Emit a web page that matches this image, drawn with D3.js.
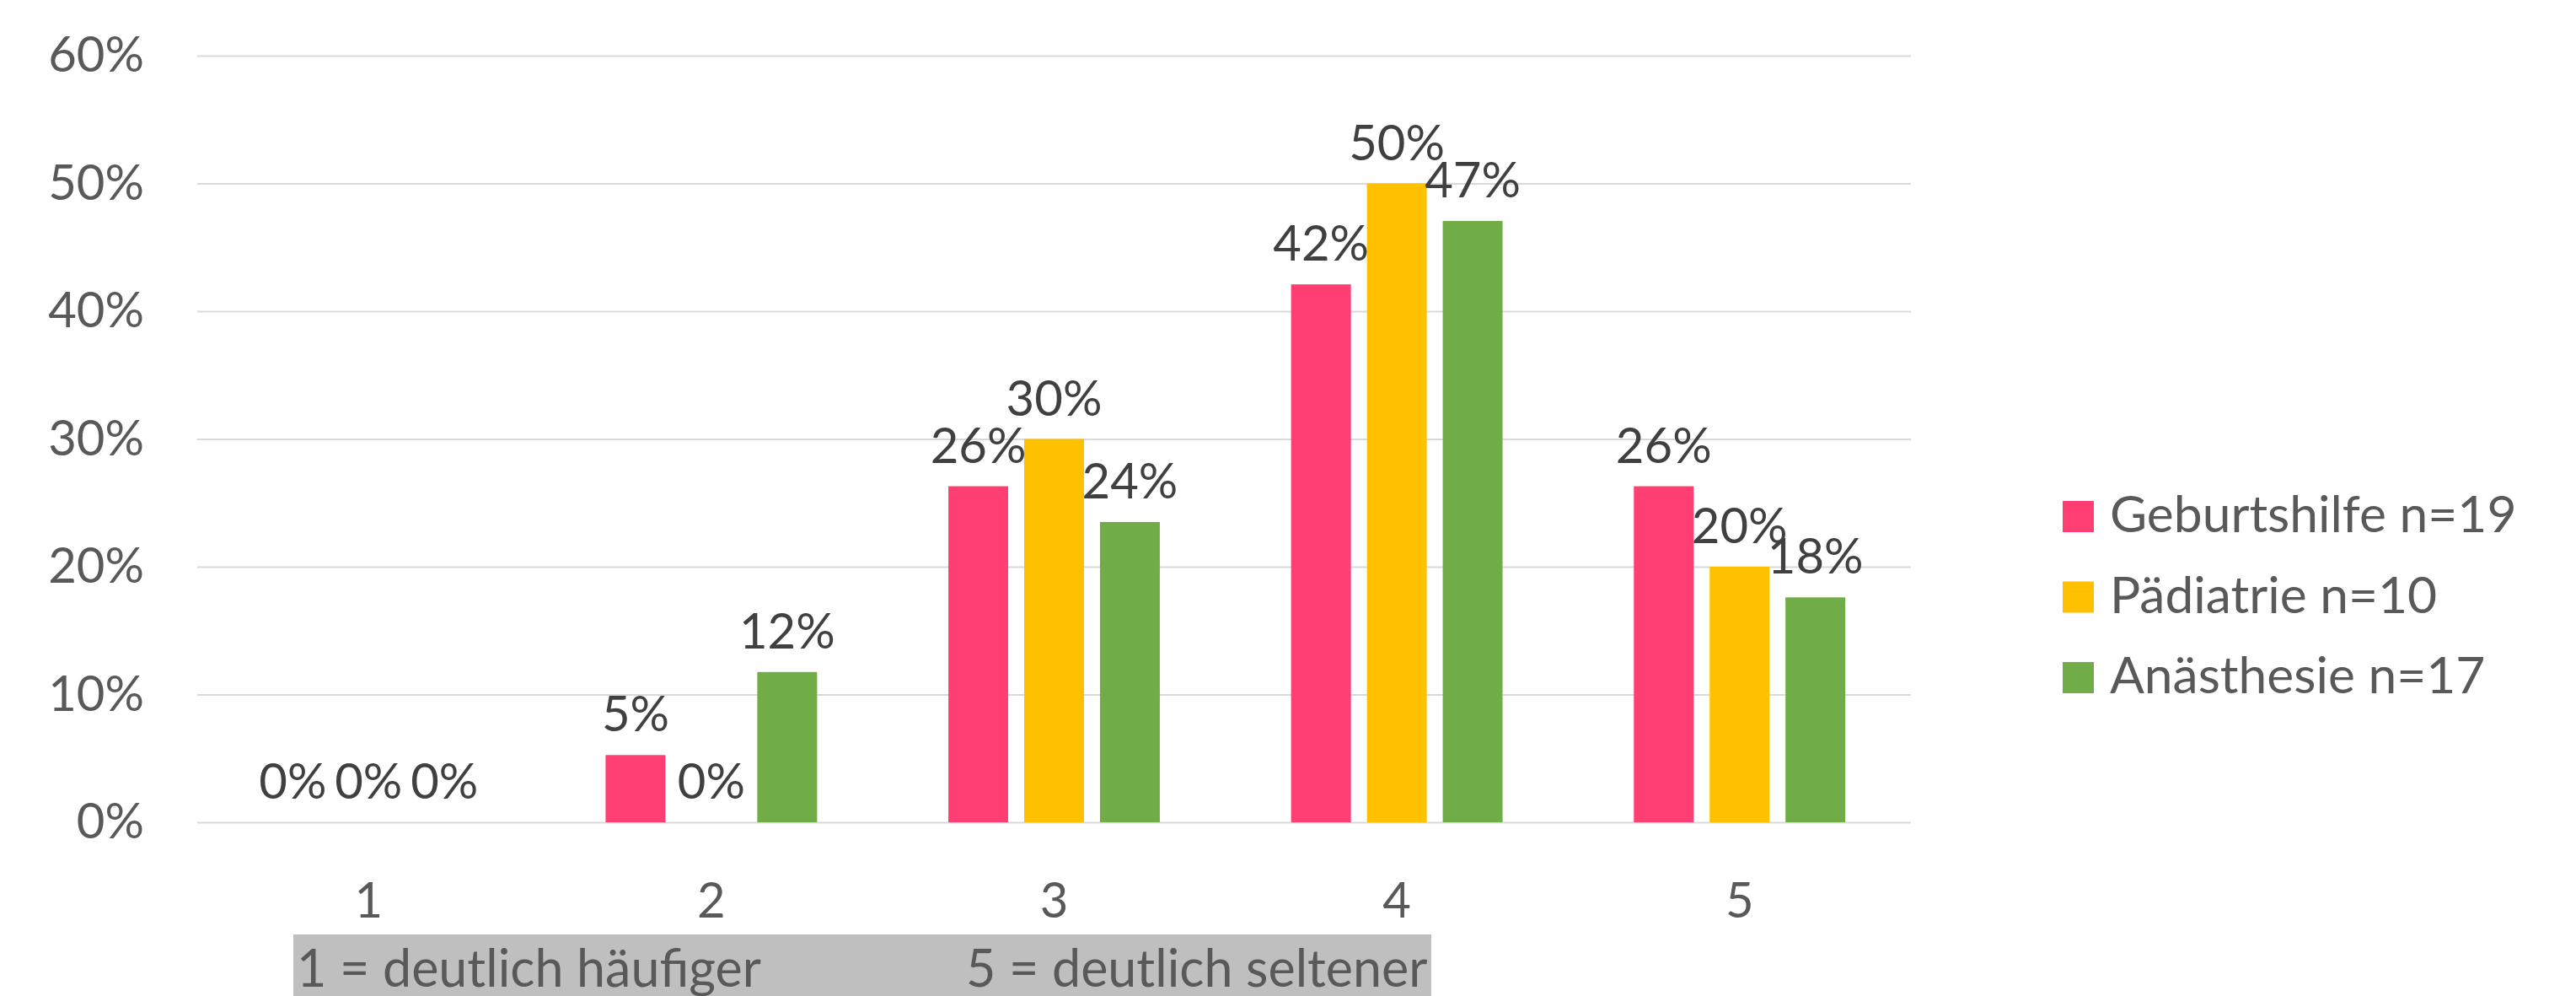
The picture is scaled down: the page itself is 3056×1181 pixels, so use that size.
<!DOCTYPE html>
<html>
<head>
<meta charset="utf-8">
<script src="https://cdn.jsdelivr.net/npm/d3@7"></script>
<style>
  body { margin: 0; background: #ffffff; }
  #graf { width: 3056px; height: 1181px; overflow: hidden; }
  text { font-family: Lato, 'Open Sans', sans-serif; }
</style>
</head>
<body>
<div id="graf"></div>
<script>
// I. Datos
categorias = ['1', '2', '3', '4', '5']
series = ['Geburtshilfe n=19', 'Pädiatrie n=10', 'Anästhesie n=17']
geburtshilfe = [0, 0.0526, 0.263, 0.421, 0.263]
paediatrie   = [0, 0, 0.30, 0.50, 0.20]
anaesthesie  = [0, 0.1176, 0.235, 0.4706, 0.176]
ticksY = [0, 0.1, 0.2, 0.3, 0.4, 0.5, 0.6]
colores = ['#FF3F73', '#FFC000', '#70AD47']
notaIzq = '1 = deutlich häufiger'
notaDer = '5 = deutlich seltener'

// tabla larga para dibujar las barras
valores = [geburtshilfe, paediatrie, anaesthesie]
datos = []
categorias.forEach((c, i) => {
  series.forEach((s, j) => {
    datos.push({ cat: c, serie: s, valor: valores[j][i] })
  })
})

// II. Configuración
ancho_total = 3056
alto_total = 1181
margins = { top: 66, left: 234, right: 789, bottom: 206 }
ancho = ancho_total - margins.left - margins.right
alto  = alto_total - margins.top - margins.bottom

graf = d3.select('#graf')
svg = graf.append('svg')
          .attr('width', ancho_total)
          .attr('height', alto_total)

svg.append('rect')
   .attr('width', ancho_total)
   .attr('height', alto_total)
   .attr('fill', '#ffffff')

g = svg.append('g')
       .attr('transform', `translate(${ margins.left }, ${ margins.top })`)

// escaladores
y = d3.scaleLinear()
      .domain([0, 0.6])
      .range([alto, 0])

x0 = d3.scaleBand()
       .domain(categorias)
       .range([0, ancho])
       .padding(0)

anchoGrupo = x0.bandwidth() * 0.617

x1 = d3.scaleBand()
       .domain(series)
       .range([0, anchoGrupo])
       .paddingInner(0.211)

color = d3.scaleOrdinal()
          .domain(series)
          .range(colores)

fmt = d3.format('.0%')

// eje Y con líneas de rejilla
yAxisGroup = g.append('g')
yAxisGroup.call(d3.axisLeft(y)
                  .tickValues(ticksY)
                  .tickSize(-ancho)
                  .tickPadding(63)
                  .tickFormat(fmt))
yAxisGroup.select('.domain').remove()
yAxisGroup.selectAll('line')
          .attr('stroke', '#D9D9D9')
          .attr('stroke-width', 2)
yAxisGroup.selectAll('text')
          .attr('fill', '#595959')
          .attr('font-size', '58px')
          .attr('font-family', 'Lato, sans-serif')

// eje X
xAxisGroup = g.append('g')
              .attr('transform', `translate(0, ${ alto })`)
xAxisGroup.call(d3.axisBottom(x0).tickSize(0))
xAxisGroup.select('.domain').remove()
xAxisGroup.selectAll('text')
          .attr('y', 113)
          .attr('dy', null)
          .attr('fill', '#595959')
          .attr('font-size', '58px')
          .attr('font-family', 'Lato, sans-serif')

// III. barras
grupos = g.selectAll('.grupo')
          .data(categorias)
          .enter()
          .append('g')
          .attr('class', 'grupo')
          .attr('transform', d => `translate(${ x0(d) + (x0.bandwidth() - anchoGrupo) / 2 }, 0)`)

grupos.selectAll('rect')
      .data(c => datos.filter(d => d.cat == c))
      .enter()
      .append('rect')
        .attr('x', d => x1(d.serie))
        .attr('y', d => y(d.valor))
        .attr('width', x1.bandwidth())
        .attr('height', d => alto - y(d.valor))
        .attr('fill', d => color(d.serie))

// etiquetas de datos
grupos.selectAll('.etiqueta')
      .data(c => datos.filter(d => d.cat == c))
      .enter()
      .append('text')
        .attr('class', 'etiqueta')
        .attr('x', d => x1(d.serie) + x1.bandwidth() / 2)
        .attr('y', d => y(d.valor) - 28)
        .attr('text-anchor', 'middle')
        .attr('font-size', '58px')
        .attr('fill', '#404040')
        .text(d => fmt(d.valor))

// IV. leyenda
leyenda = svg.append('g')
             .attr('transform', 'translate(2447, 631)')

items = leyenda.selectAll('.item')
               .data(series)
               .enter()
               .append('g')
               .attr('class', 'item')
               .attr('transform', (d, i) => `translate(0, ${ i * 95.5 })`)

items.append('rect')
     .attr('x', 0)
     .attr('y', -37)
     .attr('width', 37)
     .attr('height', 37)
     .attr('fill', d => color(d))

items.append('text')
     .attr('x', 56)
     .attr('y', 0)
     .attr('font-size', '60.5px')
     .attr('fill', '#595959')
     .text(d => d)

// V. cuadro de nota inferior
svg.append('rect')
   .attr('x', 348)
   .attr('y', 1108)
   .attr('width', 1350)
   .attr('height', 80)
   .attr('fill', '#BFBFBF')

svg.append('text')
   .attr('x', 352)
   .attr('y', 1170)
   .attr('font-size', '61px')
   .attr('fill', '#595959')
   .text(notaIzq)

svg.append('text')
   .attr('x', 1146)
   .attr('y', 1170)
   .attr('font-size', '61px')
   .attr('fill', '#595959')
   .text(notaDer)
</script>
</body>
</html>
